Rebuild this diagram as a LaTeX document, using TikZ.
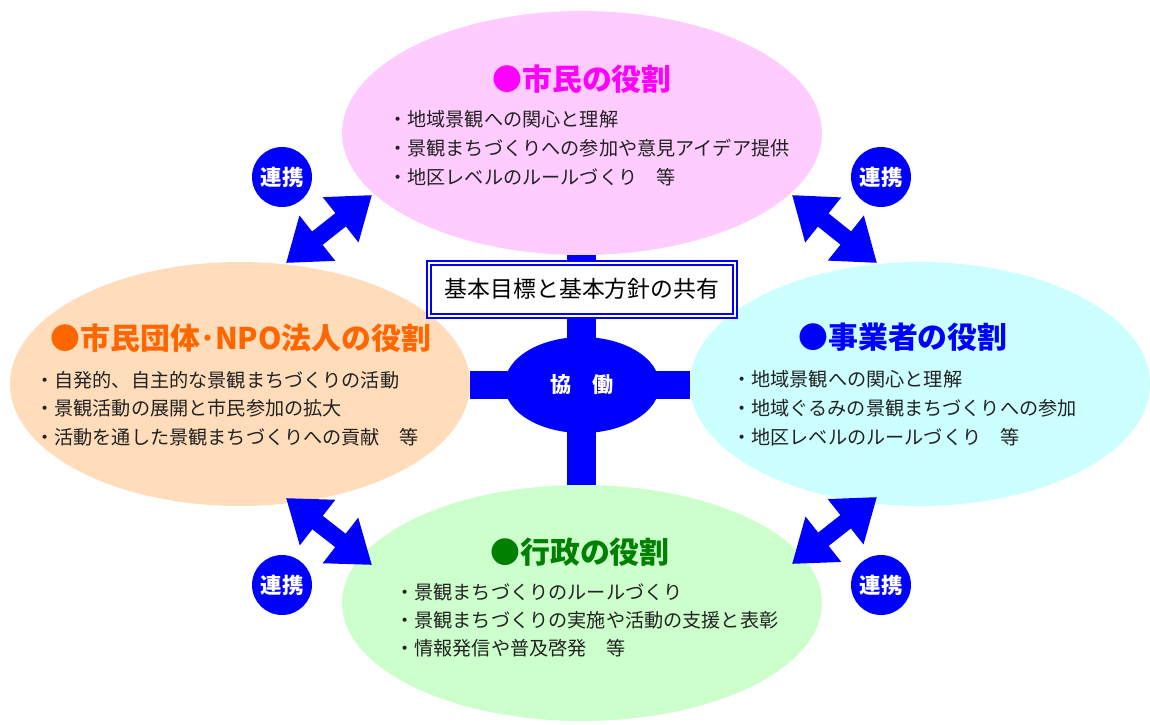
\documentclass[tikz,border=0pt]{standalone}
\usepackage{fontspec}
\setmainfont{Noto Sans CJK JP}
\usetikzlibrary{arrows.meta,shapes.geometric}

\definecolor{linkblue}{HTML}{0000FF}
\definecolor{citizenfill}{HTML}{FFCCFF}
\definecolor{groupfill}{HTML}{FFDDBB}
\definecolor{bizfill}{HTML}{CCFFFF}
\definecolor{govfill}{HTML}{CCFFCC}
\definecolor{citizentext}{HTML}{FF00FF}
\definecolor{grouptext}{HTML}{FF6600}
\definecolor{govtext}{HTML}{008000}
\definecolor{itemtext}{HTML}{222222}

\begin{document}
\begin{tikzpicture}[x=0.02cm,y=-0.02cm,
	role/.style={ellipse,minimum width=9.6cm,minimum height=4.88cm,inner sep=0pt},
	roletitle/.style={inner sep=0pt,font=\fontsize{17}{20}\selectfont\bfseries},
	item/.style={anchor=west,inner sep=0pt,text=itemtext,font=\fontsize{10.9}{13}\selectfont},
	link/.style={circle,fill=linkblue,text=white,minimum size=1.2cm,inner sep=0pt,font=\fontsize{12.2}{14}\selectfont\bfseries},
	twoway/.style={linkblue,line width=0.34cm,{Triangle[length=0.8cm,width=1.1cm]}-{Triangle[length=0.8cm,width=1.1cm]}}]
	\useasboundingbox (0,0) rectangle (1150,724);
	% cross behind everything
	\fill[linkblue] (567,255) rectangle (596,486);
	\fill[linkblue] (470,371) rectangle (690,399);
	% the four roles
	\node[role,fill=citizenfill] (citizen) at (582,133) {};
	\node[role,fill=groupfill,minimum width=9.2cm] (group) at (240,384) {};
	\node[role,fill=bizfill,minimum width=9.2cm] (biz) at (920,384) {};
	\node[role,fill=govfill,minimum height=4.72cm] (gov) at (582,603) {};
	% titles
	\node[roletitle,text=citizentext] (citizentitle) at (582,79) {●市民の役割};
	\node[roletitle,text=grouptext] (grouptitle) at (241,338) {●市民団体･NPO法人の役割};
	\node[roletitle,text=linkblue] (biztitle) at (903,337) {●事業者の役割};
	\node[roletitle,text=govtext] (govtitle) at (580,552) {●行政の役割};
	% items
	\node[item] (c1) at (388,119) {・地域景観への関心と理解};
	\node[item] (c2) at (388,148) {・景観まちづくりへの参加や意見アイデア提供};
	\node[item] (c3) at (388,177) {・地区レベルのルールづくり　等};
	\node[item] (g1) at (35,380) {・自発的、自主的な景観まちづくりの活動};
	\node[item] (g2) at (35,408) {・景観活動の展開と市民参加の拡大};
	\node[item] (g3) at (35,437) {・活動を通した景観まちづくりへの貢献　等};
	\node[item] (b1) at (732,379) {・地域景観への関心と理解};
	\node[item] (b2) at (732,408) {・地域ぐるみの景観まちづくりへの参加};
	\node[item] (b3) at (732,437) {・地区レベルのルールづくり　等};
	\node[item] (v1) at (395,592) {・景観まちづくりのルールづくり};
	\node[item] (v2) at (395,620) {・景観まちづくりの実施や活動の支援と表彰};
	\node[item] (v3) at (395,648) {・情報発信や普及啓発　等};
	% centre
	\node[ellipse,fill=linkblue,text=white,minimum width=3.1cm,minimum height=1.92cm,inner sep=0pt,font=\fontsize{12}{14}\selectfont\bfseries] (kyodo) at (582,385) {協　働};
	\node[draw=linkblue,line width=0.04cm,double=white,double distance=0.04cm,fill=white,minimum width=6.14cm,minimum height=1.06cm,inner sep=0pt,font=\fontsize{13}{15}\selectfont] (goal) at (582,289) {基本目標と基本方針の共有};
	% links between roles
	\coordinate (tl1) at (286,263); \coordinate (tl2) at (372,195);
	\coordinate (tr1) at (792,195); \coordinate (tr2) at (877,263);
	\coordinate (bl1) at (286,498); \coordinate (bl2) at (372,565);
	\coordinate (br1) at (792,564); \coordinate (br2) at (877,497);
	\draw[twoway] (tl1) -- (tl2);
	\draw[twoway] (tr1) -- (tr2);
	\draw[twoway] (bl1) -- (bl2);
	\draw[twoway] (br1) -- (br2);
	\node[link] (ltl) at (282,177) {連携};
	\node[link] (ltr) at (881,177) {連携};
	\node[link] (lbl) at (282,585) {連携};
	\node[link] (lbr) at (881,585) {連携};
\end{tikzpicture}
\end{document}
